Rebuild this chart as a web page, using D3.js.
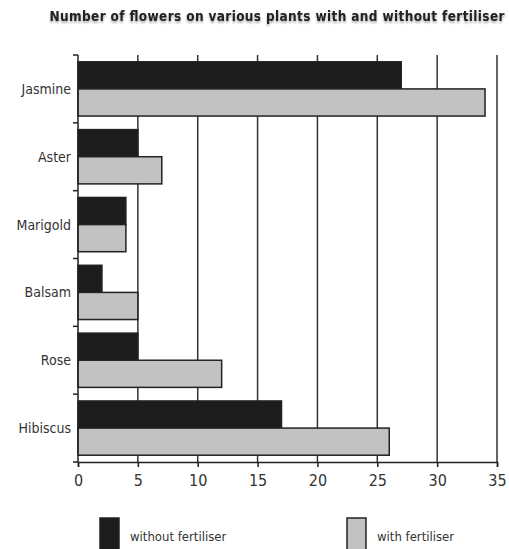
<!DOCTYPE html>
<html>
<head>
<meta charset="utf-8">
<script src="https://cdn.jsdelivr.net/npm/d3@7"></script>
<style>
  body { margin: 0; background: #fff; }
  text { font-family: "DejaVu Sans Condensed", "DejaVu Sans", sans-serif; }
</style>
</head>
<body>
<div id="chart"></div>
<script>
// data
const plants = ["Jasmine", "Aster", "Marigold", "Balsam", "Rose", "Hibiscus"];
const withoutFert = [27, 5, 4, 2, 5, 17];
const withFert = [34, 7, 4, 5, 12, 26];
const seriesNames = ["without fertiliser", "with fertiliser"];
const xTicks = [0, 5, 10, 15, 20, 25, 30, 35];

const width = 509, height = 549;
const margin = { top: 55, left: 78, right: 12, bottom: 87 };

const svg = d3.select("#chart").append("svg")
    .attr("width", width)
    .attr("height", height);

const x = d3.scaleLinear().domain([0, 35]).range([margin.left, 497]);
const y = d3.scaleBand().domain(plants).range([margin.top, height - margin.bottom]).paddingInner(0.2).paddingOuter(0.1);
const y0 = d3.scaleBand().domain([0, 1]).range([0, y.bandwidth()]);
const colors = ["#1c1c1c", "#c2c2c2"];

// title (shadow done with a css filter)
svg.append("text")
    .attr("x", 277).attr("y", 21)
    .attr("text-anchor", "middle")
    .attr("font-size", 13.5).attr("font-weight", "bold")
    .attr("fill", "#222")
    .attr("textLength", 455)
    .style("filter", "drop-shadow(0.5px 2px 1px #aaa)")
    .text("Number of flowers on various plants with and without fertiliser");

// vertical grid lines
svg.append("g")
    .selectAll("line")
    .data(xTicks.slice(1))
    .enter().append("line")
    .attr("x1", d => x(d)).attr("x2", d => x(d))
    .attr("y1", margin.top).attr("y2", height - margin.bottom)
    .attr("stroke", "#333")
    .attr("stroke-width", 1.5);

// bars
const rows = plants.map((p, i) => ({ plant: p, vals: [withoutFert[i], withFert[i]] }));
const group = svg.append("g")
    .selectAll("g")
    .data(rows)
    .enter().append("g")
    .attr("transform", d => `translate(0,${y(d.plant)})`);

group.selectAll("rect")
    .data(d => d.vals)
    .enter().append("rect")
    .attr("x", x(0))
    .attr("y", (d, i) => y0(i))
    .attr("width", d => x(d) - x(0))
    .attr("height", y0.bandwidth())
    .attr("fill", (d, i) => colors[i])
    .attr("stroke", "#222")
    .attr("stroke-width", 1.5);

// x axis
const xAxis = svg.append("g")
    .attr("transform", `translate(0,${height - margin.bottom})`)
    .call(d3.axisBottom(x).tickValues(xTicks).tickSize(5).tickPadding(8));
xAxis.select(".domain").attr("stroke", "#222").attr("stroke-width", 1.5);
xAxis.selectAll(".tick line").attr("stroke", "#222").attr("stroke-width", 1.5);
xAxis.selectAll("text")
    .attr("font-size", 16)
    .attr("fill", "#333")
    .style("font-family", "'DejaVu Sans Condensed', sans-serif");

// y axis
const yEdges = plants.map(p => y(p) - y.step() * y.paddingInner() / 2);
yEdges.push(height - margin.bottom);
svg.append("line")
    .attr("x1", x(0)).attr("x2", x(0))
    .attr("y1", margin.top).attr("y2", height - margin.bottom)
    .attr("stroke", "#222").attr("stroke-width", 1.5);
svg.append("g")
    .selectAll("line")
    .data(yEdges)
    .enter().append("line")
    .attr("x1", x(0) - 5).attr("x2", x(0))
    .attr("y1", d => d).attr("y2", d => d)
    .attr("stroke", "#222").attr("stroke-width", 1.5);

svg.append("g")
    .selectAll("text")
    .data(plants)
    .enter().append("text")
    .attr("x", 71)
    .attr("y", d => y(d) + y.bandwidth() / 2)
    .attr("text-anchor", "end")
    .attr("dominant-baseline", "central")
    .attr("font-size", 14)
    .attr("fill", "#333")
    .text(d => d);

// legend
const legendX = [100, 347];
const legend = svg.append("g")
    .selectAll("g")
    .data(seriesNames)
    .enter().append("g")
    .attr("transform", (d, i) => `translate(${legendX[i]},518)`);
legend.append("rect")
    .attr("width", 19).attr("height", 32)
    .attr("fill", (d, i) => colors[i])
    .attr("stroke", "#222").attr("stroke-width", 1.5);
legend.append("text")
    .attr("x", 30).attr("y", 18)
    .attr("dominant-baseline", "central")
    .attr("font-size", 13)
    .attr("fill", "#333")
    .text(d => d);
</script>
</body>
</html>
